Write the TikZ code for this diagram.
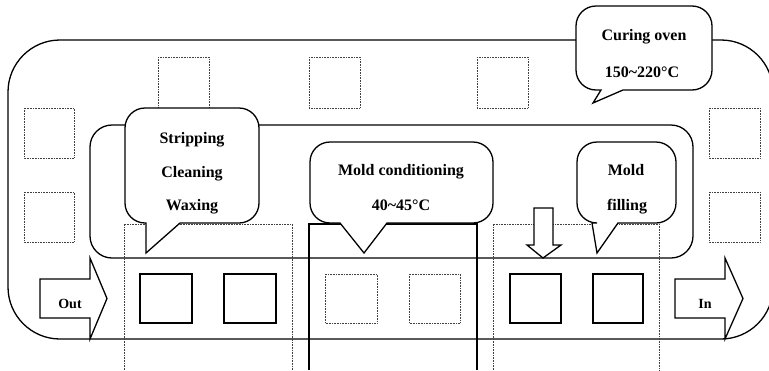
\documentclass[tikz,border=0pt]{standalone}
\usepackage{fontspec}
\setmainfont{Liberation Serif}

\begin{document}
\begin{tikzpicture}[x=1pt, y=-1pt,
      every node/.style={font=\bfseries\fontsize{16}{18}\selectfont, inner sep=0pt},
      wall/.style={line width=1.3pt},
      ghost/.style={line width=0.6pt, densely dotted, black!75},
      tray/.style={line width=1.2pt},
      callout/.style={line width=1.3pt, fill=white, line join=miter}]
    \useasboundingbox (0,0) rectangle (769,370);
    \clip (0,0) rectangle (769,370);
    % oven loop and inner track
    \draw[wall, rounded corners=52pt] (8,40) rectangle (773,339);
    \draw[wall, rounded corners=22pt] (90,125) rectangle (693,258);
    % empty positions
    \draw[ghost] (158,57) rectangle (209,108);
    \draw[ghost] (309,57) rectangle (360,108);
    \draw[ghost] (477,57) rectangle (528,108);
    \draw[ghost] (24,108) rectangle (74,158);
    \draw[ghost] (24,192) rectangle (74,242);
    \draw[ghost] (709,108) rectangle (760,158);
    \draw[ghost] (709,192) rectangle (760,242);
    \draw[ghost] (325,274) rectangle (377,323);
    \draw[ghost] (409,274) rectangle (460,323);
    % stations
    \draw[ghost] (124,370) -- (124,224) -- (292,224) -- (292,370);
    \draw[ghost] (493,370) -- (493,224) -- (659,224) -- (659,370);
    \draw[wall] (309,370) -- (309,224) -- (477,224) -- (477,370);
    % molds
    \draw[tray] (140,274) rectangle (192,323);
    \draw[tray] (224,274) rectangle (276,323);
    \draw[tray] (510,274) rectangle (561,323);
    \draw[tray] (593,274) rectangle (643,323);
    % block arrows
    \draw[wall, fill=white] (40,279) -- (90,279) -- (90,258) -- (107,298.5)
          -- (90,339) -- (90,318) -- (40,318) -- cycle;
    \draw[wall, fill=white] (675,279) -- (725,279) -- (725,258) -- (743,298.5)
          -- (725,339) -- (725,318) -- (675,318) -- cycle;
    \draw[wall, fill=white] (534,208) -- (553,208) -- (553,245) -- (561,245)
          -- (543,258) -- (527,245) -- (534,245) -- cycle;
    \node[anchor=base, font=\bfseries\fontsize{14}{16}\selectfont] (out) at (70,308) {Out};
    \node[anchor=base, font=\bfseries\fontsize{14}{16}\selectfont] (in) at (705,308) {In};
    % callouts
    \draw[callout] (623,90) [rounded corners=20pt] -- (712,90) -- (712,6)
          -- (576,6) -- (576,90) [sharp corners] -- (601,90) -- (593,103) -- cycle;
    \draw[callout] (180,223) [rounded corners=20pt] -- (259,223) -- (259,108)
          -- (125,108) -- (125,223) [sharp corners] -- (146,223) -- (146,253) -- cycle;
    \draw[callout] (387,223) [rounded corners=20pt] -- (493,223) -- (493,142)
          -- (310,142) -- (310,223) [sharp corners] -- (340,223) -- (364,253) -- cycle;
    \draw[callout] (618,223) [rounded corners=20pt] -- (676,223) -- (676,142)
          -- (577,142) -- (577,223) [sharp corners] -- (592,223) -- (597,253) -- cycle;
    % labels
    \node[anchor=base] (oven) at (644,40) {Curing oven};
    \node[anchor=base] (ovenT) at (642,77) {150\textasciitilde220°C};
    \node[anchor=base] (strip) at (192,143) {Stripping};
    \node[anchor=base] (clean) at (192,177) {Cleaning};
    \node[anchor=base] (wax) at (192,210) {Waxing};
    \node[anchor=base] (cond) at (401,175) {Mold conditioning};
    \node[anchor=base] (condT) at (401,210) {40\textasciitilde45°C};
    \node[anchor=base] (fill1) at (626,175) {Mold};
    \node[anchor=base] (fill2) at (627,210) {filling};
\end{tikzpicture}
\end{document}
